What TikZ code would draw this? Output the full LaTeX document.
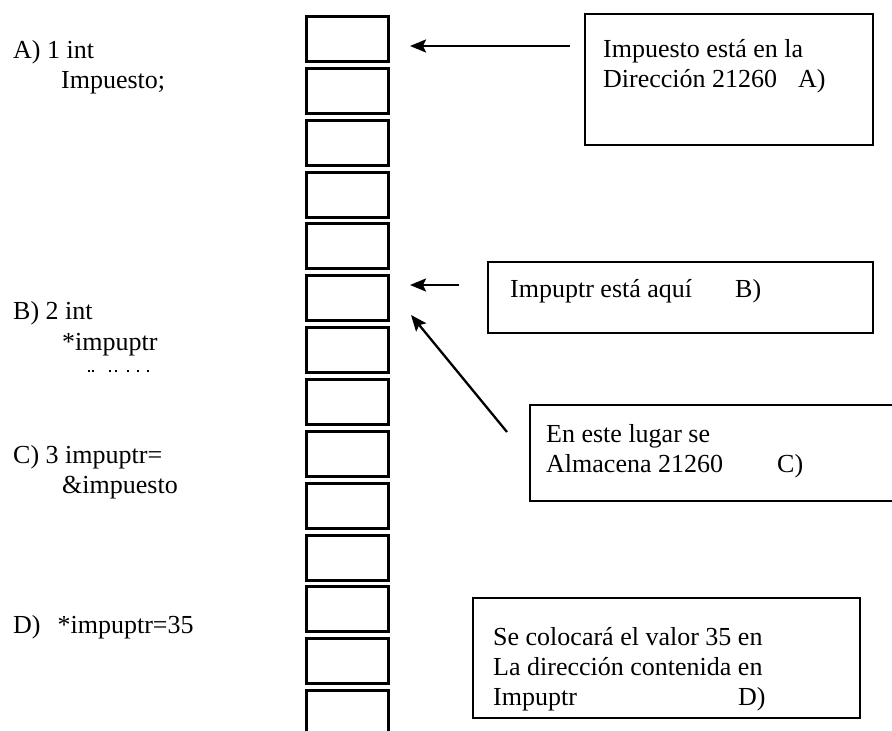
\documentclass[tikz,border=0pt]{standalone}
\usepackage{fontspec}
\setmainfont{Liberation Serif}
\usetikzlibrary{arrows.meta}
\begin{document}
\begin{tikzpicture}[x=1pt,y=-1pt,
  cell/.style={draw,line width=3pt,minimum width=82pt,minimum height=45pt,inner sep=0pt,outer sep=0pt},
  note/.style={draw,line width=1.6pt,anchor=north west,inner sep=0pt,outer sep=0pt},
  txt/.style={anchor=base west,inner sep=0pt,font=\fontsize{26}{30}\selectfont},
  arr/.style={line width=2.3pt,-{Stealth[length=16pt,width=13pt,inset=3pt]}}]
\useasboundingbox (0,0) rectangle (892,731);
\clip (0,0) rectangle (892,731);
\fill[white] (0,0) rectangle (892,731);

% memory cells
\foreach \i in {0,...,13}
  \node[cell] (c\i) at (347.5,{39+\i*51.85}) {};

% program lines
\node[txt] (la1) at (13,58) {A) 1 int};
\node[txt] (la2) at (61,88) {Impuesto;};
\node[txt] (lb1) at (13,319) {B) 2 int};
\node[txt] (lb2) at (62,350) {*impuptr};
\node[txt] (lc1) at (13,463) {C) 3 impuptr=};
\node[txt] (lc2) at (62,493) {\&impuesto};
\node[txt] (ld1) at (13,633) {D)\hspace*{17pt}*impuptr=35};

% tops of a clipped line below *impuptr
\foreach \x in {88,92,109,115,127,137,147}
  \fill (\x,369.5) rectangle ++(1.6,2.5);

% callout boxes
\node[note,minimum width=288pt,minimum height=131pt] (boxA) at (585,14) {};
\node[note,minimum width=385pt,minimum height=71pt] (boxB) at (488,262) {};
\node[note,minimum width=380pt,minimum height=96pt] (boxC) at (530,405) {};
\node[note,minimum width=387pt,minimum height=120pt] (boxD) at (473,598) {};

% callout texts
\node[txt] (ta1) at (603,57) {Impuesto está en la};
\node[txt] (ta2) at (603,87) {Dirección 21260};
\node[txt] (ta3) at (798,87) {A)};
\node[txt] (tb1) at (510,297) {Impuptr está aquí};
\node[txt] (tb2) at (735,297) {B)};
\node[txt] (tc1) at (546,442) {En este lugar se};
\node[txt] (tc2) at (546,472) {Almacena 21260};
\node[txt] (tc3) at (777,472) {C)};
\node[txt] (td1) at (493,645) {Se colocará el valor 35 en};
\node[txt] (td2) at (493,675) {La dirección contenida en};
\node[txt] (td3) at (493,705) {Impuptr};
\node[txt] (td4) at (738,705) {D)};

% arrows
\coordinate (aTail) at (570,46);
\coordinate (aTip) at (410,46);
\coordinate (bTail) at (459,285);
\coordinate (bTip) at (410,285);
\coordinate (cTail) at (507,432);
\coordinate (cTip) at (411,315);
\draw[arr] (aTail) -- (aTip);
\draw[arr] (bTail) -- (bTip);
\draw[arr] (cTail) -- (cTip);
\end{tikzpicture}
\end{document}
